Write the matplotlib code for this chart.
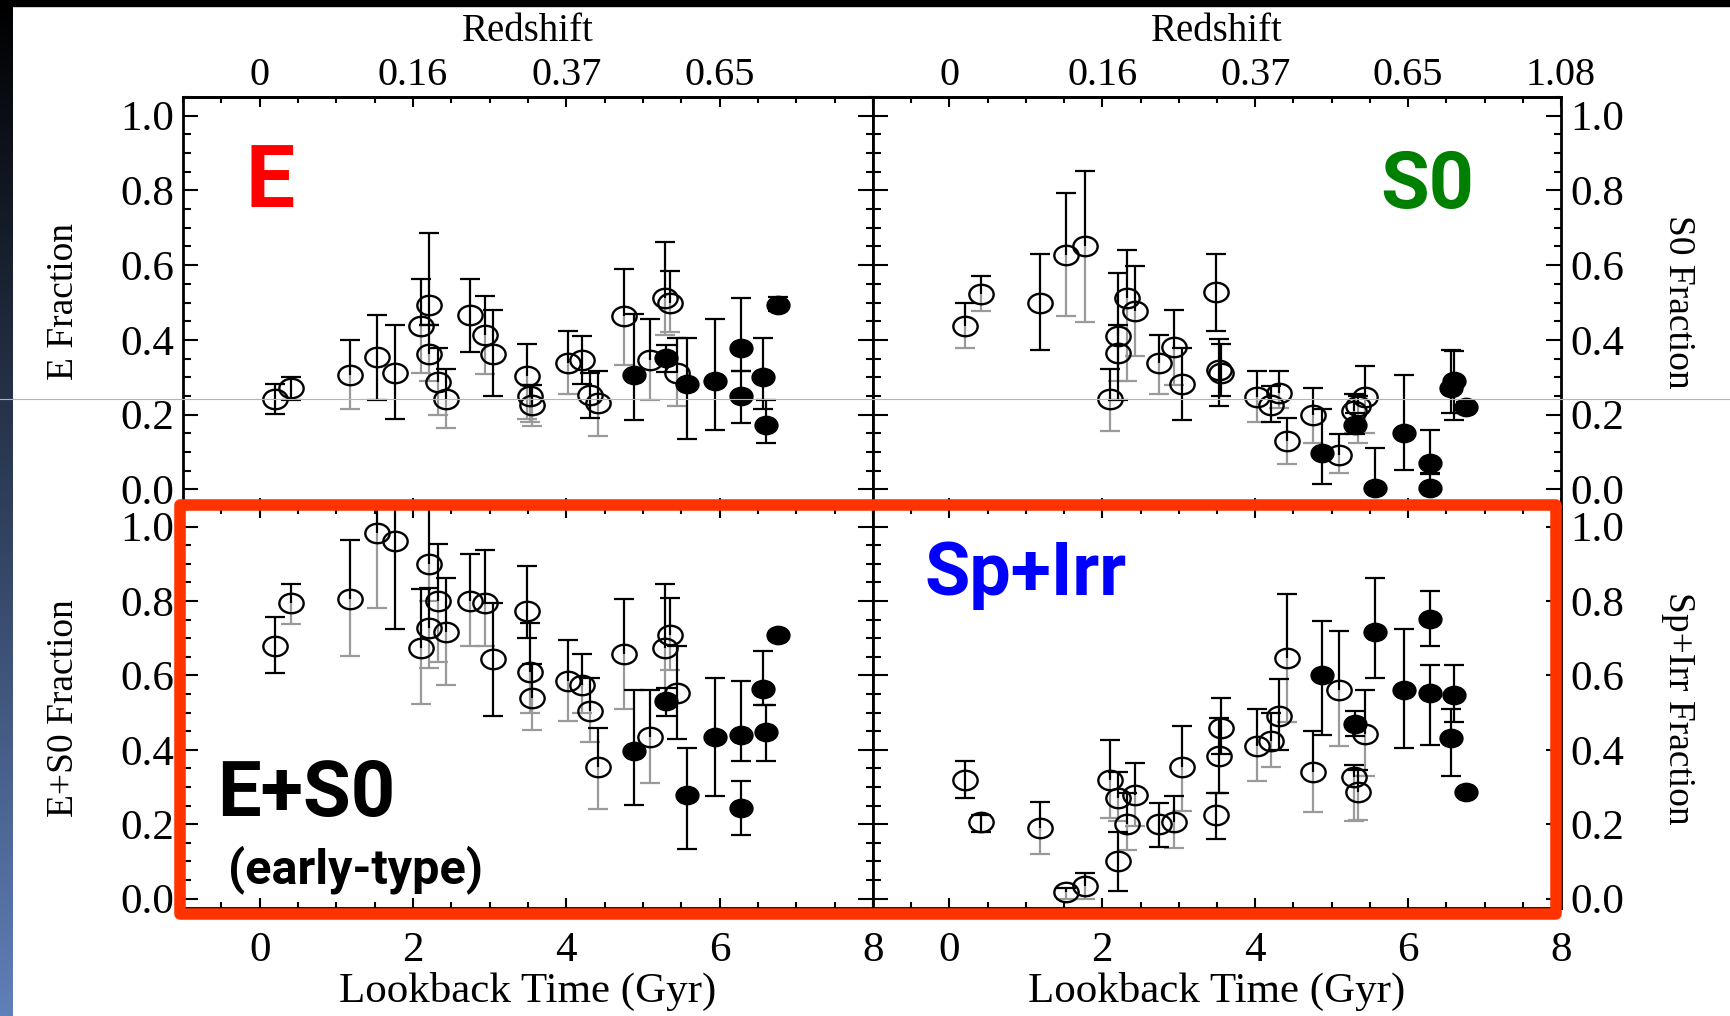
import numpy as np
import matplotlib.pyplot as plt
from matplotlib.path import Path
from matplotlib.transforms import Affine2D
from matplotlib.patches import Rectangle
from matplotlib.lines import Line2D
from matplotlib.ticker import MultipleLocator, FormatStrFormatter

# ---- data ----
t_open = [0.20, 0.41, 1.18, 1.53, 1.77, 2.10, 2.21, 2.21, 2.32, 2.43, 2.74, 2.94, 3.04,
          3.49, 3.52, 3.55, 4.02, 4.20, 4.31, 4.41, 4.75, 5.09, 5.29, 5.35, 5.44]
t_filled = [4.88, 5.30, 5.57, 5.94, 6.28, 6.28, 6.56, 6.60, 6.76]

z_tick_t = [0, 2, 4, 6, 8]
z_labels = ['0', '0.16', '0.37', '0.65', '1.08']

# E
e_open = [.243, .272, .307, .353, .312, .438, .494, .363, .288, .242, .466, .414, .363,
          .303, .249, .227, .338, .347, .252, .230, .463, .347, .512, .500, .312]
e_open_hi = [.283, .301, .400, .467, .440, .563, .686, .440, .379, .322, .563, .518, .479,
             .389, .280, .280, .425, .411, .312, .316, .590, .456, .663, .583, .405]
e_open_lo = [.202, .240, .216, .240, .189, .312, .440, .290, .200, .165, .368, .309, .249,
             .187, .180, .170, .254, .283, .192, .142, .334, .239, .414, .420, .223]
e_open_grey = [0, 0, 1, 0, 0, 1, 0, 1, 1, 1, 0, 1, 0, 1, 1, 1, 1, 0, 0, 1, 1, 1, 1, 1, 1]
e_filled = [.305, .352, .282, .289, .377, .249, .301, .172, .492]
e_filled_hi = [.468, .387, .405, .456, .512, .316, .405, .239, .516]
e_filled_lo = [.185, .313, .134, .158, .316, .178, .214, .125, .476]

# S0
s0_open = [.438, .524, .500, .628, .650, .242, .411, .365, .512, .476, .337, .381, .283,
           .527, .319, .312, .248, .227, .258, .129, .198, .093, .210, .223, .248]
s0_open_hi = [.500, .570, .630, .793, .853, .322, .579, .441, .641, .597, .412, .479, .379,
              .630, .403, .390, .316, .276, .316, .192, .270, .147, .254, .250, .330]
s0_open_lo = [.377, .476, .372, .465, .447, .156, .290, .240, .289, .356, .256, .280, .185,
              .423, .224, .249, .180, .180, .218, .067, .125, .045, .150, .125, .150]
s0_open_grey = [1, 1, 0, 1, 1, 1, 1, 0, 1, 1, 1, 1, 0, 0, 0, 0, 1, 0, 1, 1, 1, 1, 1, 1, 1]
s0_filled = [.096, .171, .003, .150, .071, .003, .272, .290, .220]
s0_filled_hi = [.214, .205, .110, .305, .160, .045, .374, .370, .235]
s0_filled_lo = [.013, .147, .000, .052, .040, .000, .205, .185, .205]

# E+S0
es0_open = [.680, .794, .806, .982, .960, .675, .900, .727, .800, .718, .800, .794, .645,
            .773, .610, .539, .584, .575, .505, .353, .658, .434, .675, .709, .554]
es0_open_hi = [.756, .846, .964, 1.10, 1.10, .832, 1.10, .834, .953, .863, .927, .936, .794,
               .895, .740, .630, .695, .658, .593, .458, .806, .560, .846, .807, .680]
es0_open_lo = [.606, .738, .653, .782, .724, .524, .800, .620, .637, .573, .678, .680, .491,
               .700, .500, .454, .478, .500, .420, .241, .509, .312, .520, .615, .430]
es0_open_grey = [0, 1, 1, 1, 0, 1, 1, 1, 1, 1, 1, 1, 0, 0, 1, 1, 1, 1, 1, 1, 1, 1, 1, 1, 0]
es0_filled = [.398, .530, .280, .434, .440, .243, .564, .448, .709]
es0_filled_hi = [.560, .567, .405, .593, .586, .317, .667, .520, .720]
es0_filled_lo = [.252, .490, .134, .275, .369, .172, .521, .369, .695]

# Sp+Irr
sp_open = [.320, .205, .190, .017, .035, .320, .100, .270, .200, .280, .200, .205, .353,
           .225, .384, .458, .410, .423, .490, .646, .340, .560, .327, .288, .442]
sp_open_hi = [.370, .225, .260, .030, .070, .427, .180, .340, .285, .364, .257, .275, .465,
              .284, .485, .540, .510, .500, .590, .820, .450, .720, .360, .346, .560]
sp_open_lo = [.270, .180, .120, .000, .000, .217, .020, .210, .130, .195, .140, .136, .235,
              .160, .284, .390, .317, .355, .400, .476, .233, .410, .210, .212, .330]
sp_open_grey = [0, 0, 1, 1, 1, 1, 0, 1, 1, 1, 0, 1, 1, 0, 0, 0, 1, 1, 0, 1, 1, 1, 1, 1, 1]
sp_filled = [.600, .470, .716, .561, .554, .753, .432, .548, .286]
sp_filled_hi = [.745, .505, .863, .724, .628, .828, .510, .628, .295]
sp_filled_lo = [.440, .436, .593, .405, .414, .680, .330, .476, .275]

plt.rcParams['font.family'] = 'Liberation Serif'
plt.rcParams['font.size'] = 31

W, H = 1731, 1016
GREY = '#9a9a9a'
ELL = Path.unit_circle().transformed(Affine2D().scale(1.0, 0.8))

fig = plt.figure(figsize=(W / 100, H / 100), dpi=100)

L, M, R = 183 / W, 873 / W, 1561 / W
T, MID, B = 1 - 97 / H, 0.5, 1 - 908 / H


def draw_points(ax, y, hi, lo, grey, fy, fhi, flo):
    t = np.array(t_open)
    y, hi, lo = np.array(y), np.array(hi), np.array(lo)
    g = np.array(grey, bool)
    ax.vlines(t[g], lo[g], y[g], color=GREY, lw=1.6, zorder=2)
    ax.plot(t[g], lo[g], ls='none', marker='_', ms=14, mew=1.6, color=GREY, zorder=2)
    ax.vlines(t[~g], lo[~g], y[~g], color='k', lw=1.6, zorder=3)
    ax.plot(t[~g], lo[~g], ls='none', marker='_', ms=14, mew=1.6, color='k', zorder=3)
    ax.vlines(t, y, hi, color='k', lw=1.6, zorder=3)
    ax.plot(t, hi, ls='none', marker='_', ms=14, mew=1.6, color='k', zorder=3)
    tf = np.array(t_filled)
    ax.vlines(tf, flo, fhi, color='k', lw=1.6, zorder=3)
    ax.plot(tf, fhi, ls='none', marker='_', ms=14, mew=1.6, color='k', zorder=3)
    ax.plot(tf, flo, ls='none', marker='_', ms=14, mew=1.6, color='k', zorder=3)
    ax.plot(t, y, ls='none', marker=ELL, ms=17.5, mfc='none', mec='k', mew=1.7, zorder=4)
    ax.plot(tf, fy, ls='none', marker=ELL, ms=16.5, mfc='k', mec='k', mew=1.0, zorder=4)


def setup(ax, ylim, side, bottom_row):
    ax.set_xlim(-1, 8)
    ax.set_ylim(*ylim)
    ax.set_xticks(z_tick_t)
    ax.xaxis.set_minor_locator(MultipleLocator(0.5))
    ax.set_yticks(np.arange(0, 1.01, 0.2))
    ax.yaxis.set_minor_locator(MultipleLocator(0.05))
    ax.yaxis.set_major_formatter(FormatStrFormatter('%.1f'))
    ax.tick_params(axis='x', which='major', direction='in', length=7.2, width=1.5,
                   top=True, bottom=True, labelbottom=bottom_row, pad=17)
    ax.tick_params(axis='x', which='minor', direction='in', length=4.3, width=1.5,
                   top=True, bottom=True)
    ax.tick_params(axis='y', which='major', direction='in', length=10.8, width=1.5,
                   left=True, right=True, labelleft=(side == 'left'),
                   labelright=(side == 'right'), pad=6.5)
    ax.tick_params(axis='y', which='minor', direction='in', length=5.4, width=1.5,
                   left=True, right=True)
    for sp in ax.spines.values():
        sp.set_linewidth(2.0)
    if not bottom_row:
        sec = ax.secondary_xaxis('top')
        n = 4 if side == 'left' else 5
        sec.set_xticks(z_tick_t[:n], labels=z_labels[:n])
        sec.tick_params(which='both', length=0, pad=2, labelsize=29)
        sec.spines['top'].set_linewidth(2.0)


ax_e = fig.add_axes([L, MID, M - L, T - MID])
ax_s0 = fig.add_axes([M, MID, R - M, T - MID])
ax_es0 = fig.add_axes([L, B, M - L, MID - B])
ax_sp = fig.add_axes([M, B, R - M, MID - B])

setup(ax_e, (-0.05, 1.05), 'left', False)
setup(ax_s0, (-0.05, 1.05), 'right', False)
setup(ax_es0, (-0.025, 1.05), 'left', True)
setup(ax_sp, (-0.025, 1.05), 'right', True)

draw_points(ax_e, e_open, e_open_hi, e_open_lo, e_open_grey,
            e_filled, e_filled_hi, e_filled_lo)
draw_points(ax_s0, s0_open, s0_open_hi, s0_open_lo, s0_open_grey,
            s0_filled, s0_filled_hi, s0_filled_lo)
draw_points(ax_es0, es0_open, es0_open_hi, es0_open_lo, es0_open_grey,
            es0_filled, es0_filled_hi, es0_filled_lo)
draw_points(ax_sp, sp_open, sp_open_hi, sp_open_lo, sp_open_grey,
            sp_filled, sp_filled_hi, sp_filled_lo)


def fx(px):
    return px / W


def fy(py):
    return 1 - py / H


# axis titles
for cx in (528, 1217):
    fig.text(fx(cx), fy(41), 'Redshift', ha='center', va='baseline', fontsize=28)
    fig.text(fx(cx), fy(991), 'Lookback Time (Gyr)', ha='center', va='center', fontsize=31)
fig.text(fx(64), fy(302), 'E Fraction', rotation=90, ha='center', va='center', fontsize=27)
fig.text(fx(64), fy(708), 'E+S0 Fraction', rotation=90, ha='center', va='center', fontsize=27)
fig.text(fx(1678), fy(302), 'S0 Fraction', rotation=-90, ha='center', va='center', fontsize=27)
fig.text(fx(1678), fy(708), 'Sp+Irr Fraction', rotation=-90, ha='center', va='center', fontsize=27)

# coloured panel labels
lab = dict(family='Roboto', weight='bold', ha='left', va='baseline', zorder=12)
fig.text(fx(246), fy(207), 'E', color='#ff0000', fontsize=63, **lab)
fig.text(fx(1380), fy(208), 'S0', color='#008000', fontsize=57, **lab)
fig.text(fx(925), fy(595), 'Sp+Irr', color='#0000ff', fontsize=53, **lab)
fig.text(fx(217), fy(816), 'E+S0', color='k', fontsize=56, **lab)
fig.text(fx(228), fy(883), '(early-type)', color='k', fontsize=35, **lab)

# red highlight box round the bottom row
fig.add_artist(Rectangle((fx(180.5), fy(914)), (1556.5 - 180.5) / W, (914 - 505) / H,
                         transform=fig.transFigure, fill=False, ec='#ff3300',
                         lw=8.3, joinstyle='round', zorder=11))

# slide frame: dark top band, gradient strip on the left, stray grey rule
fig.add_artist(Rectangle((0, fy(6)), 1, 6 / H, transform=fig.transFigure,
                         color='black', zorder=20))
strip = fig.add_axes([0, 0, 13 / W, 1])
frac = np.linspace(0, 1, 256)[:, None, None]
grad = frac * np.array([95, 127, 184]) / 255.0
strip.imshow(np.repeat(grad, 2, axis=1), aspect='auto', extent=(0, 1, 0, 1), origin='upper')
strip.set_axis_off()
fig.add_artist(Line2D([0, 1], [fy(399), fy(399)], transform=fig.transFigure,
                      color='#b4b4b4', lw=0.8, zorder=25))

fig.savefig('out.png', dpi=100)
